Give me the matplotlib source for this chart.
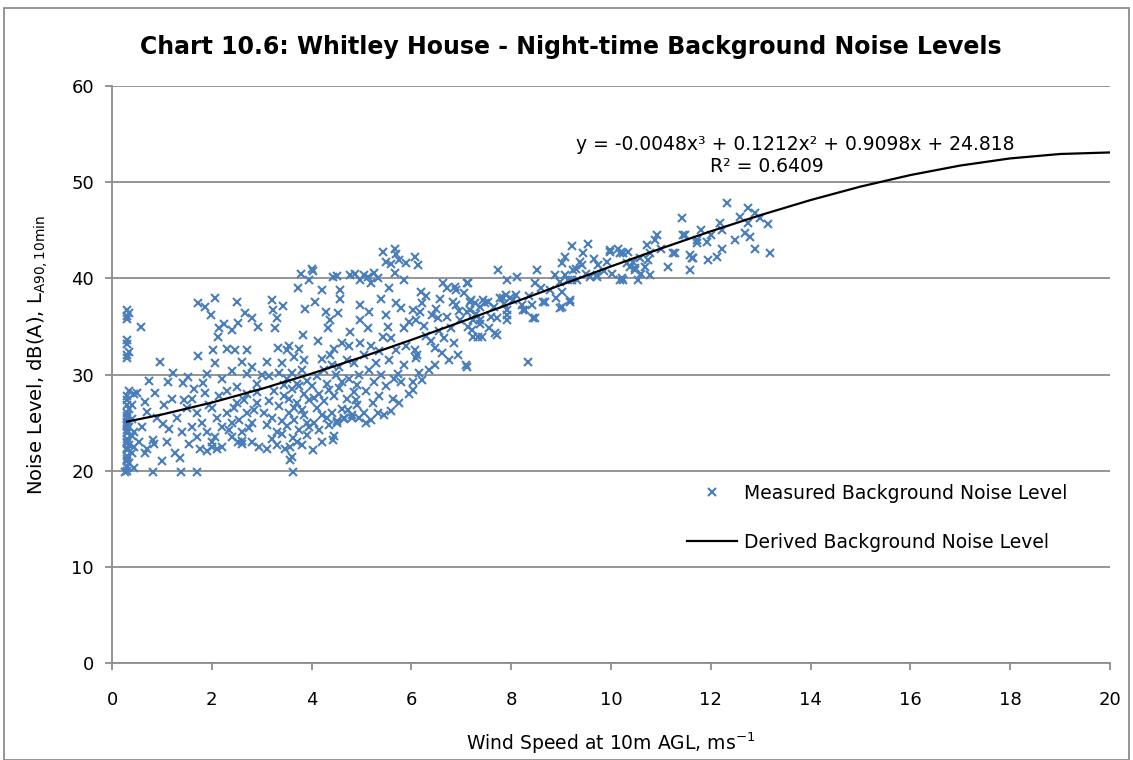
import numpy as np
import matplotlib
matplotlib.use('Agg')
import matplotlib.pyplot as plt
from matplotlib.patches import Rectangle

# measured points (wind speed ms-1, LA90 dB), grouped by wind band
calm = [(0.3, 20.0), (0.3, 20.4), (0.35, 20.8), (0.3, 21.2), (0.3, 21.5), (0.4, 21.8), (0.3, 22.1),
        (0.3, 22.4), (0.35, 22.7), (0.3, 23.0), (0.3, 23.3), (0.4, 23.6), (0.3, 23.9), (0.3, 24.2),
        (0.35, 24.5), (0.3, 24.8), (0.3, 25.1), (0.4, 25.4), (0.3, 25.7), (0.3, 26.0), (0.35, 26.4),
        (0.3, 26.8), (0.3, 27.3), (0.3, 27.8), (0.35, 28.3), (0.3, 31.7), (0.3, 32.0), (0.35, 32.3),
        (0.3, 33.2), (0.3, 33.6), (0.3, 35.8), (0.3, 36.1), (0.35, 36.4), (0.3, 36.7), (0.45, 20.3),
        (0.26, 19.9), (0.45, 22.5), (0.45, 24.0), (0.4, 26.8), (0.45, 28.0), (0.3, 21.0), (0.3, 22.9),
        (0.3, 24.6), (0.3, 25.5)]

band_0_2 = [(0.58, 34.9), (0.96, 31.3), (0.74, 29.3), (1.12, 29.2), (0.86, 28.1), (0.66, 27.1), (0.70, 26.1),
            (1.04, 26.8), (1.02, 24.9), (0.82, 23.2), (1.10, 23.0), (1.26, 21.8), (1.36, 21.3), (0.82, 19.9),
            (1.38, 19.9), (1.70, 19.9), (0.50, 28.1), (0.66, 21.8), (0.84, 22.8), (1.22, 30.2), (1.42, 29.1),
            (1.52, 29.7), (1.72, 31.9), (1.72, 37.4), (1.86, 37.0), (1.98, 36.2), (1.90, 30.1), (1.82, 29.1),
            (1.86, 28.1), (1.76, 22.3), (1.60, 27.5), (1.70, 26.0), (1.80, 25.0), (1.90, 24.0), (1.60, 24.5),
            (1.70, 23.5), (1.90, 22.0), (1.30, 25.5), (1.40, 24.0), (1.50, 26.5), (1.55, 22.8), (1.20, 27.5),
            (0.60, 24.5), (0.55, 23.0), (0.90, 25.5), (1.15, 24.3), (1.45, 27.3), (1.65, 28.5), (1.95, 26.8),
            (0.70, 22.3), (1.00, 21.0)]

band_2_3 = [(2.06, 38.0), (2.50, 37.5), (2.66, 36.4), (2.80, 35.9), (2.92, 34.9), (2.52, 35.4), (2.40, 34.6),
            (2.12, 33.9), (2.02, 32.5), (2.30, 32.7), (2.46, 32.5), (2.70, 32.5), (2.60, 31.3), (2.80, 30.8),
            (2.70, 30.1), (2.06, 31.2), (2.00, 26.5), (2.10, 25.5), (2.20, 24.5), (2.30, 26.0), (2.40, 25.0),
            (2.50, 27.0), (2.60, 24.0), (2.70, 26.0), (2.80, 25.0), (2.90, 27.0), (2.00, 23.0), (2.20, 22.5),
            (2.40, 23.5), (2.60, 22.8), (2.80, 23.0), (2.10, 22.3), (2.30, 28.3), (2.50, 28.7), (2.70, 28.0),
            (2.90, 29.0), (2.95, 22.5), (2.00, 22.5), (2.06, 23.5), (2.52, 23.0), (2.60, 23.1), (2.15, 27.8),
            (2.35, 24.2), (2.45, 26.5), (2.55, 25.3), (2.65, 27.4), (2.75, 24.4), (2.85, 26.3), (2.20, 29.5),
            (2.40, 30.4), (2.90, 28.2), (2.25, 35.2), (2.15, 34.8)]

band_3_4 = [(3.10, 22.3), (3.30, 22.7), (3.20, 37.7), (3.23, 36.7), (3.30, 35.9), (3.27, 34.8), (3.33, 32.8),
            (3.40, 31.2), (3.43, 37.1), (3.50, 32.5), (3.73, 39.0), (3.79, 40.5), (3.95, 39.8), (3.87, 36.8),
            (3.83, 34.1), (3.63, 23.4), (3.57, 22.5), (3.60, 21.4), (3.63, 19.9), (3.90, 23.7), (3.47, 22.3),
            (3.57, 21.1), (3.05, 26.0), (3.10, 24.8), (3.15, 27.2), (3.20, 25.5), (3.25, 28.3), (3.30, 24.0),
            (3.35, 26.7), (3.40, 25.2), (3.45, 27.8), (3.50, 24.6), (3.55, 26.0), (3.60, 28.5), (3.65, 25.3),
            (3.70, 27.0), (3.75, 24.2), (3.80, 26.3), (3.85, 28.0), (3.90, 25.0), (3.95, 27.3), (3.50, 29.5),
            (3.60, 30.2), (3.70, 29.0), (3.80, 30.5), (3.90, 29.3), (3.15, 29.8), (3.35, 30.2), (3.45, 28.9),
            (3.55, 27.5), (3.65, 26.5), (3.75, 28.8), (3.85, 25.8), (3.95, 24.5), (3.70, 23.0), (3.80, 22.7),
            (3.40, 23.8), (3.20, 23.3), (3.65, 31.8), (3.75, 32.6), (3.85, 31.5), (3.55, 33.0), (3.00, 30.0),
            (3.10, 31.3)]

band_4_5 = [(4.03, 40.8), (4.00, 41.0), (4.07, 37.5), (4.20, 38.8), (4.43, 40.1), (4.50, 40.2), (4.77, 40.3),
            (4.87, 40.5), (4.97, 39.8), (4.57, 38.8), (4.57, 37.9), (4.97, 37.2), (4.37, 35.7), (4.53, 36.4),
            (4.33, 34.8), (4.77, 34.4), (4.97, 35.7), (4.60, 33.3), (4.97, 33.3), (4.37, 32.0), (4.03, 22.1),
            (4.43, 23.2), (4.45, 23.6), (4.20, 23.0), (4.05, 25.0), (4.10, 26.5), (4.15, 28.0), (4.20, 25.8),
            (4.25, 27.2), (4.30, 29.0), (4.35, 24.8), (4.40, 26.0), (4.45, 27.8), (4.50, 25.2), (4.55, 28.6),
            (4.60, 26.4), (4.65, 25.4), (4.70, 27.5), (4.75, 29.5), (4.80, 25.8), (4.85, 28.2), (4.90, 26.8),
            (4.95, 30.0), (4.10, 29.8), (4.25, 30.5), (4.40, 31.0), (4.55, 30.8), (4.70, 31.5), (4.85, 31.2),
            (4.15, 24.2), (4.30, 25.5), (4.50, 25.0), (4.65, 25.5), (4.80, 25.5), (4.95, 25.5), (4.05, 27.6),
            (4.35, 28.4), (4.60, 29.2), (4.90, 28.9), (4.20, 31.6), (4.45, 32.7), (4.75, 33.0), (4.12, 33.5),
            (4.28, 36.5), (4.00, 28.8), (4.48, 29.9), (4.72, 26.3), (4.88, 27.3)]

band_5_6 = [(5.43, 42.7), (5.67, 43.1), (5.70, 42.5), (5.50, 41.7), (5.60, 41.5), (5.75, 41.9), (5.90, 41.6),
            (6.07, 42.2), (5.67, 40.6), (5.13, 40.1), (5.20, 39.5), (5.33, 40.0), (5.05, 40.3), (5.25, 40.6),
            (5.50, 36.2), (5.53, 34.9), (5.43, 33.9), (5.70, 37.4), (5.80, 36.9), (5.13, 34.8), (5.73, 30.1),
            (5.80, 29.2), (5.63, 27.5), (5.33, 26.0), (5.23, 27.0), (5.05, 26.0), (5.10, 28.3), (5.15, 30.5),
            (5.20, 25.3), (5.25, 29.2), (5.30, 31.2), (5.35, 27.8), (5.40, 30.0), (5.45, 25.8), (5.50, 28.8),
            (5.55, 31.5), (5.60, 26.2), (5.65, 29.5), (5.70, 32.5), (5.75, 27.0), (5.85, 31.0), (5.90, 33.0),
            (5.95, 28.0), (5.05, 32.0), (5.20, 33.0), (5.35, 32.4), (5.60, 33.8), (5.85, 34.8), (5.10, 25.0),
            (5.15, 36.5), (5.40, 37.8), (5.95, 35.5), (5.55, 39.0), (5.85, 39.8)]

band_6_7 = [(6.13, 41.4), (6.20, 38.6), (6.03, 36.7), (6.10, 35.7), (6.07, 32.5), (6.10, 31.7), (6.03, 29.2),
            (6.03, 28.4), (6.21, 37.4), (6.17, 36.5), (6.41, 36.2), (6.53, 35.9), (6.71, 36.0), (6.97, 35.7),
            (6.57, 37.9), (6.83, 37.5), (6.63, 39.5), (6.71, 39.0), (6.87, 39.1), (6.90, 38.8), (6.90, 37.2),
            (6.47, 32.8), (6.61, 32.2), (6.93, 32.0), (6.47, 31.0), (6.21, 29.4), (6.11, 32.0), (6.30, 34.0),
            (6.40, 33.5), (6.55, 34.5), (6.65, 33.8), (6.80, 34.8), (6.25, 35.0), (6.35, 30.5), (6.75, 31.5),
            (6.85, 33.3), (6.15, 30.2), (6.50, 36.8), (6.95, 36.6), (6.30, 38.2)]

band_7_8 = [(7.11, 39.5), (7.13, 39.5), (7.17, 37.5), (7.20, 37.7), (7.27, 37.4), (7.37, 37.0), (7.47, 37.4),
            (7.43, 37.7), (7.53, 37.5), (7.17, 36.7), (7.11, 36.5), (7.23, 35.7), (7.37, 35.3), (7.37, 35.7),
            (7.41, 33.9), (7.23, 33.9), (7.33, 33.9), (7.21, 34.6), (7.13, 34.9), (7.72, 34.1), (7.68, 34.3),
            (7.72, 35.9), (7.92, 36.2), (7.92, 35.7), (7.92, 36.7), (7.78, 38.0), (7.84, 38.0), (7.98, 38.0),
            (7.90, 38.3), (7.74, 40.9), (7.92, 39.8), (7.10, 31.0), (7.11, 30.8), (7.60, 36.0), (7.55, 34.8),
            (7.05, 38.5), (7.30, 36.3), (7.65, 37.0), (7.85, 37.3)]

band_8_9 = [(8.04, 37.7), (8.12, 40.1), (8.22, 37.2), (8.28, 36.7), (8.48, 35.9), (8.44, 35.9), (8.24, 36.7),
            (8.34, 31.3), (8.42, 37.2), (8.52, 40.9), (8.48, 39.5), (8.64, 37.5), (8.68, 37.5), (8.78, 38.8),
            (8.88, 40.3), (8.98, 39.6), (8.98, 36.9), (8.10, 38.3), (8.35, 38.2), (8.60, 39.0), (8.90, 38.0)]

band_9_10 = [(9.02, 41.6), (9.08, 42.2), (9.22, 43.4), (9.54, 43.6), (9.44, 42.6), (9.42, 41.4), (9.08, 40.3),
             (9.22, 39.8), (9.14, 39.8), (9.32, 39.8), (9.24, 40.9), (9.38, 41.7), (9.02, 38.6), (9.18, 37.7),
             (9.18, 37.5), (9.02, 37.0), (9.58, 40.1), (9.72, 40.3), (9.72, 40.1), (9.74, 41.4), (9.92, 41.7),
             (9.98, 42.7), (9.98, 42.9), (9.30, 41.0), (9.50, 40.5), (9.65, 42.0), (9.85, 40.8)]

band_10_14 = [(10.14, 43.1), (10.02, 40.5), (10.22, 40.0), (10.18, 42.6), (10.24, 42.6), (10.34, 42.7),
              (10.32, 41.6), (10.44, 41.7), (10.48, 41.1), (10.54, 39.8), (10.78, 40.3), (10.24, 39.8),
              (10.18, 39.8), (10.38, 41.2), (10.48, 40.9), (10.68, 41.2), (10.74, 41.9), (10.72, 43.5),
              (10.78, 42.6), (10.58, 42.1), (10.88, 44.0), (10.92, 44.5), (11.14, 41.2), (11.28, 42.6),
              (11.24, 42.6), (11.42, 46.3), (11.48, 44.5), (11.44, 44.5), (11.58, 42.4), (11.62, 42.1),
              (11.58, 40.9), (11.64, 42.1), (11.72, 44.0), (11.72, 43.7), (11.92, 43.8), (11.94, 41.9),
              (12.12, 42.2), (12.18, 45.8), (12.22, 45.0), (12.22, 43.1), (12.32, 47.8), (12.48, 44.0),
              (12.59, 46.4), (12.69, 44.7), (12.75, 47.3), (12.75, 45.8), (12.79, 44.3), (12.89, 46.8),
              (12.89, 43.1), (12.99, 46.3), (13.15, 45.7), (13.19, 42.6), (10.60, 40.5), (11.00, 43.0),
              (11.80, 45.0), (12.00, 44.5)]

# derived background curve
fit_ws = [0.3, 1, 2, 3, 4, 5, 6, 7, 8, 9, 10, 11, 12, 13, 14, 15, 16, 17, 18, 19, 20]
fit_db = [25.10, 25.84, 27.08, 28.51, 30.09, 31.80, 33.60, 35.48, 37.40, 39.32, 41.24, 43.10,
          44.89, 46.58, 48.14, 49.54, 50.74, 51.73, 52.47, 52.93, 53.09]

eq_text = 'y = -0.0048x\u00b3 + 0.1212x\u00b2 + 0.9098x + 24.818'
r2_text = 'R\u00b2 = 0.6409'

pts = np.array(calm + band_0_2 + band_2_3 + band_3_4 + band_4_5 + band_5_6 +
               band_6_7 + band_7_8 + band_8_9 + band_9_10 + band_10_14)

plt.rcParams['font.family'] = ['DejaVu Sans']
W, H = 1133, 760
fig = plt.figure(figsize=(W / 100, H / 100), dpi=100)
ax = fig.add_axes([112 / W, 1 - 663 / H, (1110 - 112) / W, (663 - 86) / H])

grey = '#8c8c8c'
blue = '#4a7ebb'

ax.plot(pts[:, 0], pts[:, 1], 'x', color=blue, ms=6, mew=1.5,
        label='Measured Background Noise Level', zorder=3)
ax.plot(fit_ws, fit_db, '-', color='black', lw=1.6,
        label='Derived Background Noise Level', zorder=4)

ax.set_xlim(0, 20)
ax.set_ylim(0, 60)
ax.set_xticks(range(0, 21, 2))
ax.set_yticks(range(0, 61, 10))
ax.yaxis.grid(True, color=grey, lw=1.3)
ax.set_axisbelow(True)
for s in ['top', 'right']:
    ax.spines[s].set_visible(False)
for s in ['left', 'bottom']:
    ax.spines[s].set_color(grey)
    ax.spines[s].set_linewidth(1.3)
ax.tick_params(axis='both', colors=grey, labelcolor='black', labelsize=13, width=1.3, length=5)
ax.tick_params(axis='x', pad=15)
ax.tick_params(axis='y', pad=8)

ax.set_xlabel('Wind Speed at 10m AGL, ms$^{-1}$', fontsize=13.5, labelpad=16)
fig.text(38 / W, 1 - 355 / H, 'Noise Level, dB(A), L$_{\\mathregular{A90,10min}}$',
         rotation=90, ha='center', va='center', fontsize=14)

fig.text(140 / W, 1 - 47 / H, 'Chart 10.6: Whitley House - Night-time Background Noise Levels',
         ha='left', va='center', fontsize=17, fontweight='bold')

fig.text(795 / W, 1 - 144 / H, eq_text, ha='center', va='center', fontsize=13.5)
fig.text(767 / W, 1 - 167 / H, r2_text, ha='center', va='center', fontsize=13.5)

leg = ax.legend(loc='upper left', bbox_to_anchor=(670 / W, 1 - 467 / H),
                bbox_transform=fig.transFigure, frameon=False, numpoints=1,
                fontsize=13.5, handlelength=2.67, handletextpad=0.37, labelspacing=1.6)

# outer chart border
fig.patches.append(Rectangle((4 / W, 0), (W - 8) / W, 1 - 8 / H, transform=fig.transFigure,
                             fill=False, edgecolor=grey, lw=1.3))

fig.savefig('out.png', dpi=100)
